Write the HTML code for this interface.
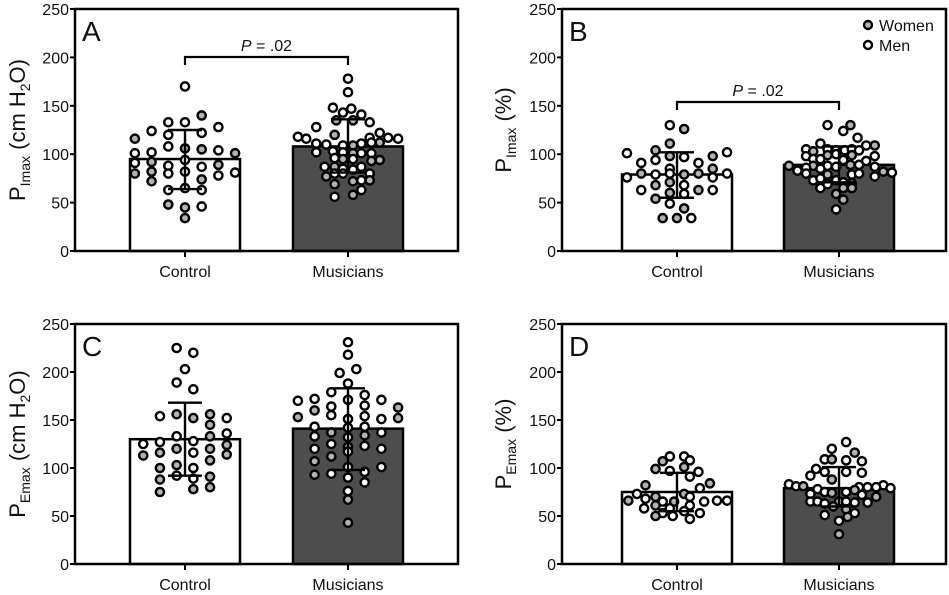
<!DOCTYPE html>
<html><head><meta charset="utf-8"><style>
body{margin:0;background:#fff;}
svg{display:block;font-family:"Liberation Sans",Arial,sans-serif;}
</style></head><body>
<svg id="fig" width="949" height="595" viewBox="0 0 949 595" xmlns="http://www.w3.org/2000/svg"></svg>
<script>
const categories=["Control","Musicians"];
const yTicks=[0,50,100,150,200,250];
// Panel A
const aCtrlVal=[170,140,133,133,124,128,120,122,116,108,106,105,104,101,102,101,91,92,94,88,87,89,80,82,80,82,78,81,74,72,63,65,63,48,46,45,34];
const aCtrlCol=[0,1,-1,0,-2,2,-1,1,-3,-1,0,1,2,-3,-2,3,-3,-2,0,-1,1,2,-3,-2,-1,0,2,3,1,-2,-1,0,1,-1,1,0,0];
const aCtrlSex=[0,1,0,0,0,0,0,0,1,0,1,1,0,0,0,1,0,1,0,0,0,1,1,1,0,0,0,0,1,1,0,0,0,1,0,1,1];
const aMusVal=[178,164,148,147,143,141,135,135,133,128,118,116,120,122,117,116,117,111,110,109,109,111,112,112,102,103,102,101,101,101,96,95,95,93,94,87,87,85,84,87,80,80,80,77,73,73,72,69,63,58,56];
const aMusCol=[0,0,-0.9,0.2,-0.3,0.8,-0.7,0.3,1.3,-1.9,-3,-2.5,-0.8,1.9,2.4,3,1.3,-1.9,-1.3,-0.3,0.3,0.8,1.4,1.9,-1.9,-0.9,-0.3,0.3,0.8,1.4,-0.8,-0.3,0.3,1.4,1.9,-1.4,-0.8,-0.3,0.3,0.8,-0.8,-0.3,1.3,-1.3,1.3,0.8,0.3,-0.8,0.8,0.3,-0.8];
const aMusSex=[0,0,0,0,0,0,1,1,0,0,0,0,1,0,0,0,0,0,0,0,1,0,0,1,0,0,0,1,0,0,0,1,0,1,1,0,1,0,0,0,0,0,0,1,1,0,1,1,0,1,0];
const aMean=[95,108], aLow=[64,81], aHigh=[125,136];
// Panel B
const bCtrlVal=[130,126,111,104,101,102,98,97,98,91,94,91,85,85,76,80,79,80,79,80,76,80,68,71,68,63,60,59,63,63,54,49,44,34,34,34];
const bCtrlCol=[-0.5,0.5,-0.5,-1.5,-3.5,3.5,-0.5,0.5,2.5,-2.5,-1.5,1.5,-0.5,2.5,-3.5,-2.5,-1.5,-0.5,0.5,1.5,2.5,3.5,-1.5,-0.5,0.5,-2.5,-0.5,0.5,1.5,2.5,-1.5,-0.5,0.5,-1,0,1];
const bCtrlSex=[0,1,1,1,0,0,1,0,1,0,0,0,0,1,0,1,0,0,1,1,0,0,1,1,0,0,1,0,1,0,1,0,1,1,1,0];
const bMusVal=[130,130,124,117,111,109,109,105,103,105,104,104,105,104,99,100,99,98,98,95,95,94,93,88,88,88,87,89,89,87,83,86,85,82,81,77,80,73,79,73,79,80,75,71,69,70,65,65,65,59,53,43];
const bMusCol=[-0.8,0.8,0.3,1.3,-1.3,2.5,1.9,-2.3,-1.8,-0.8,-0.2,0.4,0.9,1.4,-0.8,-0.2,0.9,2.5,-2.3,-1.8,-1.3,0.3,1.9,-3.5,-1.8,-0.8,-0.2,0.8,1.4,2.5,-2.9,-2.3,-1.3,3.1,3.7,2.5,-2.3,-1.8,-0.8,-0.2,0.9,1.4,-1.3,0.3,-0.8,0.9,-1.3,0.3,0.9,-0.2,0.3,-0.2];
const bMusSex=[0,1,0,0,0,1,0,0,1,0,0,0,0,0,1,0,1,0,0,0,0,0,0,1,1,0,0,1,0,0,0,0,0,1,0,0,0,0,1,0,0,0,0,0,0,1,0,1,1,1,1,0];
const bMean=[79,89], bLow=[55,71], bHigh=[102,108];
// Panel C
const cCtrlVal=[225,220,203,189,182,154,156,152,156,152,145,136,133,128,133,125,127,124,120,120,113,116,116,114,108,100,103,100,92,89,88,91,78,80,75];
const cCtrlCol=[-0.5,0.5,0,-0.5,0.5,-1.5,-0.5,0.5,1.5,2.5,1.5,2.5,-0.5,0.5,1.5,-2.5,-1.5,2.5,-0.5,1.5,-2.5,-1.5,0.5,2.5,1.5,-1.5,-0.5,0.5,-0.5,0.5,-1.5,1.5,0.5,1.5,-1.5];
const cCtrlSex=[0,0,0,0,0,0,1,1,1,0,1,0,0,0,1,0,0,1,1,1,1,1,0,1,1,1,1,0,0,0,1,1,1,1,1];
const cMusVal=[231,218,199,203,188,179,176,170,172,171,171,163,164,165,160,153,155,151,154,151,152,143,142,143,137,137,133,132,134,125,122,123,120,120,112,117,107,101,101,93,94,96,90,85,76,67,43];
const cMusCol=[0,0,-0.5,0.5,0,-1,1,-3,-2,0,2,3,-1,1,-2,-3,-1,0,1,2,3,-2,0,1,-1,2,-2,0,1,-1,0,1,-2,2,-1,0,-2,0,2,-2,-1,1,0,1,0,0,0];
const cMusSex=[0,0,0,0,0,0,0,0,0,0,0,1,0,0,1,1,0,0,0,0,1,0,0,0,1,0,0,0,1,0,1,0,0,0,1,0,1,0,0,1,0,0,0,0,0,1,1];
const cMean=[130,141], cLow=[92,98], cHigh=[168,183];
// Panel D
const dCtrlVal=[112,112,107,108,99,97,101,96,91,82,84,79,73,66,68,70,73,70,65,65,65,66,66,58,61,58,61,55,53,53,50,50,47];
const dCtrlCol=[-0.5,0.5,-1,0.9,-1.5,-0.5,0.5,1.5,0.9,-2.2,2.3,1.6,-2.8,-3.4,-2.2,-1.5,0.5,0.9,-1,-0.2,1.9,2.8,3.5,-2.3,-1.5,-0.5,0.9,0.5,-1,1.6,-1.5,-0.3,0.9];
const dCtrlSex=[0,0,1,0,1,0,1,0,0,1,1,0,0,1,0,1,1,0,0,1,0,0,0,0,1,0,0,0,0,0,1,0,0];
const dMusVal=[127,120,116,109,109,108,107,99,96,96,95,92,88,83,81,81,82,79,80,80,80,78,75,74,75,77,72,70,73,65,65,63,65,65,64,64,60,57,51,53,49,45,31];
const dMusCol=[0.5,-0.5,1.1,-1,-0.5,0.5,1.6,-1.6,-1,0.5,1.6,-2,-0.5,-3.5,-3,-2.5,3.1,3.6,2.6,2,1.4,-1.5,-1,-0.5,0.5,1.1,1.6,2.6,-2,-2,-1.5,-1,0,0.5,1.1,2,-0.4,0.5,-1,1.1,0.6,0,0];
const dMusSex=[0,0,1,0,1,0,0,0,0,0,0,0,1,0,0,1,0,0,0,0,0,0,0,1,0,1,0,1,0,0,0,0,1,0,0,0,1,1,0,0,1,0,1];
const dMean=[75,79], dLow=[55,60], dHigh=[95,101];

const NS="http://www.w3.org/2000/svg";
const svg=document.getElementById('fig');
function mk(tag,attrs,parent){const e=document.createElementNS(NS,tag);for(const k in attrs)e.setAttribute(k,attrs[k]);(parent||svg).appendChild(e);return e;}

function panel(o){
  const g=mk('g',{});
  
  
  const y=v=>o.bottom-v*(o.bottom-o.top)/250;
  const xs=[o.cx0,o.cx1];
  const fills=['#ffffff','#4d4d4d'];
  const groups=[[o.v0,o.c0,o.s0],[o.v1,o.c1,o.s1]];
  for(let i=0;i<2;i++){
    const b=mk('rect',{x:xs[i]-55,y:y(o.mean[i]),width:110,height:o.bottom-y(o.mean[i]),fill:fills[i],stroke:'#000','stroke-width':2.5},g);
    
    
  }
  for(let i=0;i<2;i++){
    const [vals,cols,sex]=groups[i];
    for(let j=0;j<vals.length;j++){
      const p=mk('circle',{cx:xs[i]+(cols[j]||0)*o.step,cy:y(vals[j]),r:4.1,fill:sex[j]?'#b3b3b3':'#ffffff',stroke:'#000','stroke-width':2.4},g);
      
      
    }
  }
  for(let i=0;i<2;i++){
    const eg=mk('g',{stroke:'#000','stroke-width':2.4},g);
    
    
    mk('line',{x1:xs[i],x2:xs[i],y1:y(o.low[i]),y2:y(o.high[i])},eg);
    mk('line',{x1:xs[i]-17,x2:xs[i]+17,y1:y(o.low[i]),y2:y(o.low[i])},eg);
    mk('line',{x1:xs[i]-17,x2:xs[i]+17,y1:y(o.high[i]),y2:y(o.high[i])},eg);
  }
  const f=mk('rect',{x:o.left,y:o.top,width:o.right-o.left,height:o.bottom-o.top,fill:'none',stroke:'#000','stroke-width':2.5},g);
  
  
  for(const t of yTicks){
    mk('line',{x1:o.left-5,x2:o.left,y1:y(t),y2:y(t),stroke:'#000','stroke-width':2},g);
    const tl=mk('text',{x:o.left-6,y:y(t)+6,'text-anchor':'end','font-size':16,fill:'#111'},g);
    tl.textContent=t;
    
    
  }
  for(let i=0;i<2;i++){
    mk('line',{x1:xs[i],x2:xs[i],y1:o.bottom,y2:o.bottom+6,stroke:'#000','stroke-width':2},g);
    const cl=mk('text',{x:xs[i],y:o.bottom+26,'text-anchor':'middle','font-size':16,fill:'#111'},g);
    cl.textContent=categories[i];
    
    
  }
  const L=mk('text',{x:o.left+7,y:o.top+32,'font-size':28,fill:'#111'},g);
  L.textContent=o.letter;
  
  
  const cy=(o.top+o.bottom)/2;
  const yt=mk('text',{x:0,y:0,'text-anchor':'middle','font-size':22,fill:'#111',transform:`translate(${o.titleX},${cy}) rotate(-90)`},g);
  
  
  yt.innerHTML=o.title;
  if(o.sig){
    const sg=mk('g',{},g);
    
    
    mk('path',{d:`M${xs[0]},${o.sig+8}V${o.sig}H${xs[1]}V${o.sig+8}`,fill:'none',stroke:'#000','stroke-width':2.2},sg);
    const st=mk('text',{x:(xs[0]+xs[1])/2,y:o.sig-6,'text-anchor':'middle','font-size':16,fill:'#111'},sg);
    st.innerHTML='<tspan font-style="italic">P</tspan> = .02';
  }
}
const tPI='P<tspan font-size="14" dy="5">Imax</tspan><tspan dy="-5"> (cm H</tspan><tspan font-size="14" dy="5">2</tspan><tspan dy="-5">O)</tspan>';
const tPIp='P<tspan font-size="14" dy="5">Imax</tspan><tspan dy="-5"> (%)</tspan>';
const tPE='P<tspan font-size="14" dy="5">Emax</tspan><tspan dy="-5"> (cm H</tspan><tspan font-size="14" dy="5">2</tspan><tspan dy="-5">O)</tspan>';
const tPEp='P<tspan font-size="14" dy="5">Emax</tspan><tspan dy="-5"> (%)</tspan>';
panel({letter:'A',left:75,right:458,top:9,bottom:251,cx0:185,cx1:348,step:16.7,v0:aCtrlVal,c0:aCtrlCol,s0:aCtrlSex,v1:aMusVal,c1:aMusCol,s1:aMusSex,mean:aMean,low:aLow,high:aHigh,title:tPI,titleX:25,sig:57});
panel({letter:'B',left:562,right:946,top:9,bottom:251,cx0:677,cx1:839,step:14.3,v0:bCtrlVal,c0:bCtrlCol,s0:bCtrlSex,v1:bMusVal,c1:bMusCol,s1:bMusSex,mean:bMean,low:bLow,high:bHigh,title:tPIp,titleX:511,sig:102});
panel({letter:'C',left:75,right:458,top:324,bottom:564,cx0:185,cx1:348,step:16.7,v0:cCtrlVal,c0:cCtrlCol,s0:cCtrlSex,v1:cMusVal,c1:cMusCol,s1:cMusSex,mean:cMean,low:cLow,high:cHigh,title:tPE,titleX:25,sig:0});
panel({letter:'D',left:562,right:946,top:324,bottom:564,cx0:677,cx1:839,step:14.3,v0:dCtrlVal,c0:dCtrlCol,s0:dCtrlSex,v1:dMusVal,c1:dMusCol,s1:dMusSex,mean:dMean,low:dLow,high:dHigh,title:tPEp,titleX:511,sig:0});
const lg=mk('g',{});


const legLabels=['Women','Men'];
const legFills=['#b3b3b3','#ffffff'];
for(let i=0;i<2;i++){
  const e=mk('g',{},lg);
  
  
  mk('circle',{cx:868,cy:25+i*20,r:4,fill:legFills[i],stroke:'#000','stroke-width':2.4},e);
  const t=mk('text',{x:879,y:31+i*20,'font-size':16,fill:'#111'},e);
  t.textContent=legLabels[i];
}
</script>
</body></html>
